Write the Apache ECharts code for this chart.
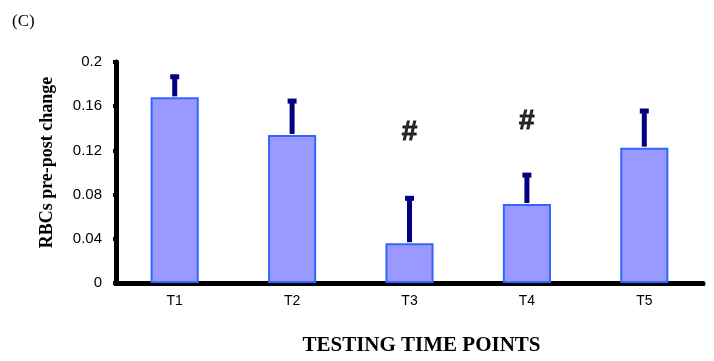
<!DOCTYPE html>
<html>
<head>
<meta charset="utf-8">
<script src="https://cdn.jsdelivr.net/npm/echarts@6/dist/echarts.min.js"></script>
<style>
html,body{margin:0;padding:0;background:#fff;}
#c{width:714px;height:361px;}
</style>
</head>
<body>
<div id="c"></div>
<script>
const categories = ['T1', 'T2', 'T3', 'T4', 'T5'];
const means = [0.168, 0.134, 0.036, 0.0715, 0.1225];
const upper = [0.188, 0.166, 0.078, 0.099, 0.157];
const hashCats = ['T3', 'T4'];
const hashValues = [0.136, 0.146];
const yTicks = [0, 0.04, 0.08, 0.12, 0.16, 0.2];

const chart = echarts.init(document.getElementById('c'));
const option = {
  animation: false,
  title: {
    text: '(C)', left: 7, top: 8,
    textStyle: { fontFamily: 'Liberation Serif', fontSize: 17, fontWeight: 'normal', color: '#000' }
  },
  grid: { left: 116, right: 11, top: 62, bottom: 77.5, containLabel: false },
  xAxis: {
    type: 'category', data: categories,
    name: 'TESTING TIME POINTS', nameLocation: 'middle', nameGap: 52,
    nameTextStyle: { fontFamily: 'Liberation Serif', fontWeight: 'bold', fontSize: 21, color: '#000', padding: [0, 0, 0, 24] },
    axisLine: { lineStyle: { color: '#000', width: 5 } },
    axisTick: { show: true, length: 3, lineStyle: { color: '#000', width: 4 } },
    axisLabel: { fontFamily: 'Liberation Sans', fontSize: 14, color: '#000', margin: 11 }
  },
  yAxis: {
    type: 'value', min: yTicks[0], max: yTicks[yTicks.length - 1], interval: 0.04,
    name: 'RBCs pre-post change', nameLocation: 'middle', nameGap: 60,
    nameTextStyle: { fontFamily: 'Liberation Serif', fontWeight: 'bold', fontSize: 18, color: '#000', padding: [0, 0, 0, 20] },
    splitLine: { show: false },
    axisLine: { show: true, lineStyle: { color: '#000', width: 5 } },
    axisTick: { show: true, length: 3, lineStyle: { color: '#000', width: 4 } },
    axisLabel: { fontFamily: 'Liberation Sans', fontSize: 15, color: '#000', margin: 14 }
  },
  series: [
    {
      type: 'bar', data: means, barWidth: '41%',
      itemStyle: { color: '#9999ff', borderColor: '#3366ff', borderWidth: 2 },
      z: 2
    },
    {
      type: 'custom',
      data: categories.map((c, i) => [i, means[i], upper[i]]),
      renderItem: function (params, api) {
        const x = api.value(0);
        const p0 = api.coord([x, api.value(1)]);
        const p1 = api.coord([x, api.value(2)]);
        return {
          type: 'group',
          children: [
            { type: 'rect', shape: { x: p0[0] - 2.5, y: p1[1], width: 5, height: p0[1] - p1[1] - 1 }, style: { fill: '#000080' } },
            { type: 'rect', shape: { x: p0[0] - 4.5, y: p1[1] - 1, width: 9, height: 5 }, style: { fill: '#000080' } }
          ]
        };
      },
      z: 3
    },
    {
      type: 'scatter',
      data: hashCats.map((c, i) => [c, hashValues[i]]),
      symbolSize: 0,
      label: {
        show: true, position: 'inside', formatter: '#',
        fontFamily: 'Liberation Sans', fontWeight: 'bold', fontSize: 28, color: '#000',
        textBorderColor: '#000', textBorderWidth: 1
      },
      z: 4
    }
  ]
};
chart.setOption(option);
</script>
</body>
</html>
